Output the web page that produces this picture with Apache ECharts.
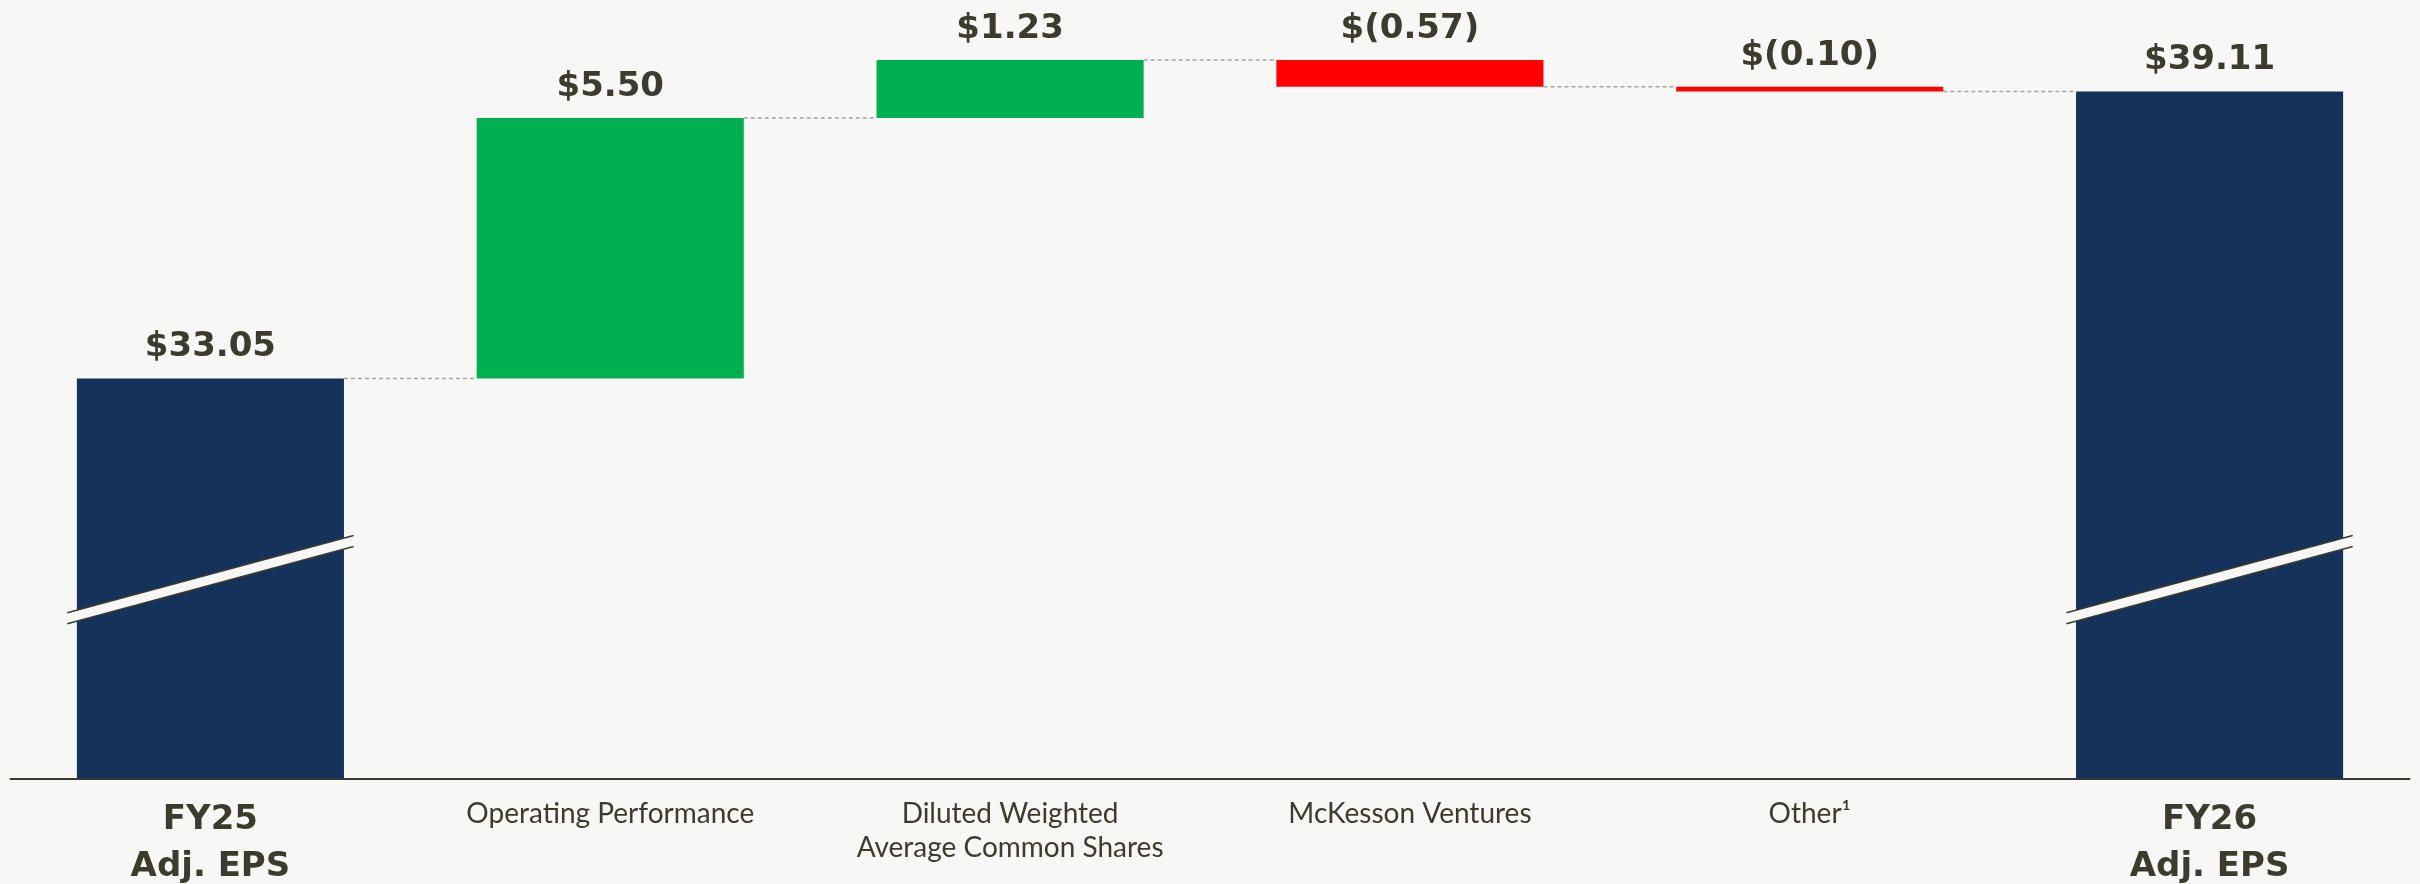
<!DOCTYPE html>
<html>
<head>
<meta charset="utf-8">
<script src="https://cdn.jsdelivr.net/npm/echarts@6/dist/echarts.min.js"></script>
<style>
  html, body { margin: 0; padding: 0; background: #f7f7f5; }
  #chart { width: 2420px; height: 884px; }
</style>
</head>
<body>
<div id="chart"></div>
<script>
// categories (bold ones are the totals)
const categories = ['FY25\nAdj. EPS', 'Operating Performance', 'Diluted Weighted\nAverage Common Shares', 'McKesson Ventures', 'Other¹', 'FY26\nAdj. EPS'];
const isTotal = [true, false, false, false, false, true];
// EPS values: totals are absolute, others are changes
const epsValues = [33.05, 5.50, 1.23, -0.57, -0.10, 39.11];

// axis is broken, so it starts above zero
const yMin = 24.6;
const yMax = 40.2;
const breakAt = 28.8;

const NAVY = '#14325a';
const GREEN = '#00b050';
const RED = '#ff0000';
const TEXT = '#3d3a2e';
const BG = '#f7f7f5';
const BAR_FRAC = 0.668;

// build the waterfall: transparent base + visible part
let running = 0;
const baseData = [];
const showData = [];
const levels = []; // running total after each bar
epsValues.forEach((v, i) => {
  if (isTotal[i]) {
    baseData.push(0);
    showData.push({ value: v, itemStyle: { color: NAVY } });
    running = v;
  } else {
    const low = v >= 0 ? running : running + v;
    baseData.push(+low.toFixed(2));
    showData.push({ value: Math.abs(v), itemStyle: { color: v >= 0 ? GREEN : RED } });
    running = +(running + v).toFixed(2);
  }
  levels.push(running);
});

function fmtLabel(i) {
  const v = epsValues[i];
  if (v < 0) return '$(' + Math.abs(v).toFixed(2) + ')';
  return '$' + v.toFixed(2);
}

const connectorData = levels.slice(0, -1).map((l, i) => [i, l]);
const breakData = isTotal.map((t, i) => t ? [i, breakAt] : null).filter(d => d);

const myChart = echarts.init(document.getElementById('chart'));

const option = {
  backgroundColor: BG,
  animation: false,
  grid: { left: 10.5, right: 10.5, top: 40, bottom: 105 },
  xAxis: {
    type: 'category',
    data: categories,
    axisLine: { lineStyle: { color: TEXT, width: 2 } },
    axisTick: { show: false },
    axisLabel: {
      interval: 0,
      margin: 18,
      formatter: (val, idx) => {
        const style = isTotal[idx] ? 'b' : 'r';
        return val.split('\n').map(s => '{' + style + '|' + s + '}').join('\n');
      },
      rich: {
        b: { fontFamily: 'DejaVu Sans', fontWeight: 'bold', fontSize: 34, lineHeight: 47, color: TEXT },
        r: { fontFamily: 'Lato', fontSize: 28, lineHeight: 34, color: TEXT }
      }
    }
  },
  yAxis: {
    type: 'value',
    min: yMin,
    max: yMax,
    show: false,
    splitLine: { show: false }
  },
  series: [
    {
      type: 'custom',
      name: 'connectors',
      z: 1,
      data: connectorData,
      encode: { x: 0, y: 1 },
      renderItem: (params, api) => {
        const p = api.coord([api.value(0), api.value(1)]);
        const cw = api.size([1, 0])[0];
        const x1 = p[0] + cw * BAR_FRAC / 2;
        const x2 = p[0] + cw - cw * BAR_FRAC / 2;
        return {
          type: 'line',
          shape: { x1: x1, y1: p[1], x2: x2, y2: p[1] },
          style: { stroke: '#a3a3a3', lineWidth: 1.5, lineDash: [4, 3] }
        };
      }
    },
    {
      type: 'bar',
      name: 'base',
      stack: 'eps',
      barWidth: (BAR_FRAC * 100) + '%',
      itemStyle: { color: 'transparent' },
      data: baseData,
      z: 2
    },
    {
      type: 'bar',
      name: 'eps',
      stack: 'eps',
      barWidth: (BAR_FRAC * 100) + '%',
      data: showData,
      z: 2,
      label: {
        show: true,
        position: 'top',
        distance: 11,
        formatter: p => fmtLabel(p.dataIndex),
        fontFamily: 'DejaVu Sans',
        fontWeight: 'bold',
        fontSize: 34,
        lineHeight: 40,
        color: TEXT
      }
    },
    {
      type: 'custom',
      name: 'breaks',
      z: 5,
      data: breakData,
      encode: { x: 0, y: 1 },
      renderItem: (params, api) => {
        const p = api.coord([api.value(0), api.value(1)]);
        const cw = api.size([1, 0])[0];
        const hw = cw * 0.358;
        const dy = hw * 0.27;
        const g = 5.5;
        const x0 = p[0] - hw, x1 = p[0] + hw;
        return {
          type: 'group',
          children: [
            {
              type: 'polygon',
              shape: { points: [[x0, p[1] + dy - g], [x1, p[1] - dy - g], [x1, p[1] - dy + g], [x0, p[1] + dy + g]] },
              style: { fill: BG }
            },
            {
              type: 'line',
              shape: { x1: x0, y1: p[1] + dy - g, x2: x1, y2: p[1] - dy - g },
              style: { stroke: TEXT, lineWidth: 1.5 }
            },
            {
              type: 'line',
              shape: { x1: x0, y1: p[1] + dy + g, x2: x1, y2: p[1] - dy + g },
              style: { stroke: TEXT, lineWidth: 1.5 }
            }
          ]
        };
      }
    }
  ]
};

myChart.setOption(option);
window.addEventListener('resize', () => myChart.resize(), false);
</script>
</body>
</html>
